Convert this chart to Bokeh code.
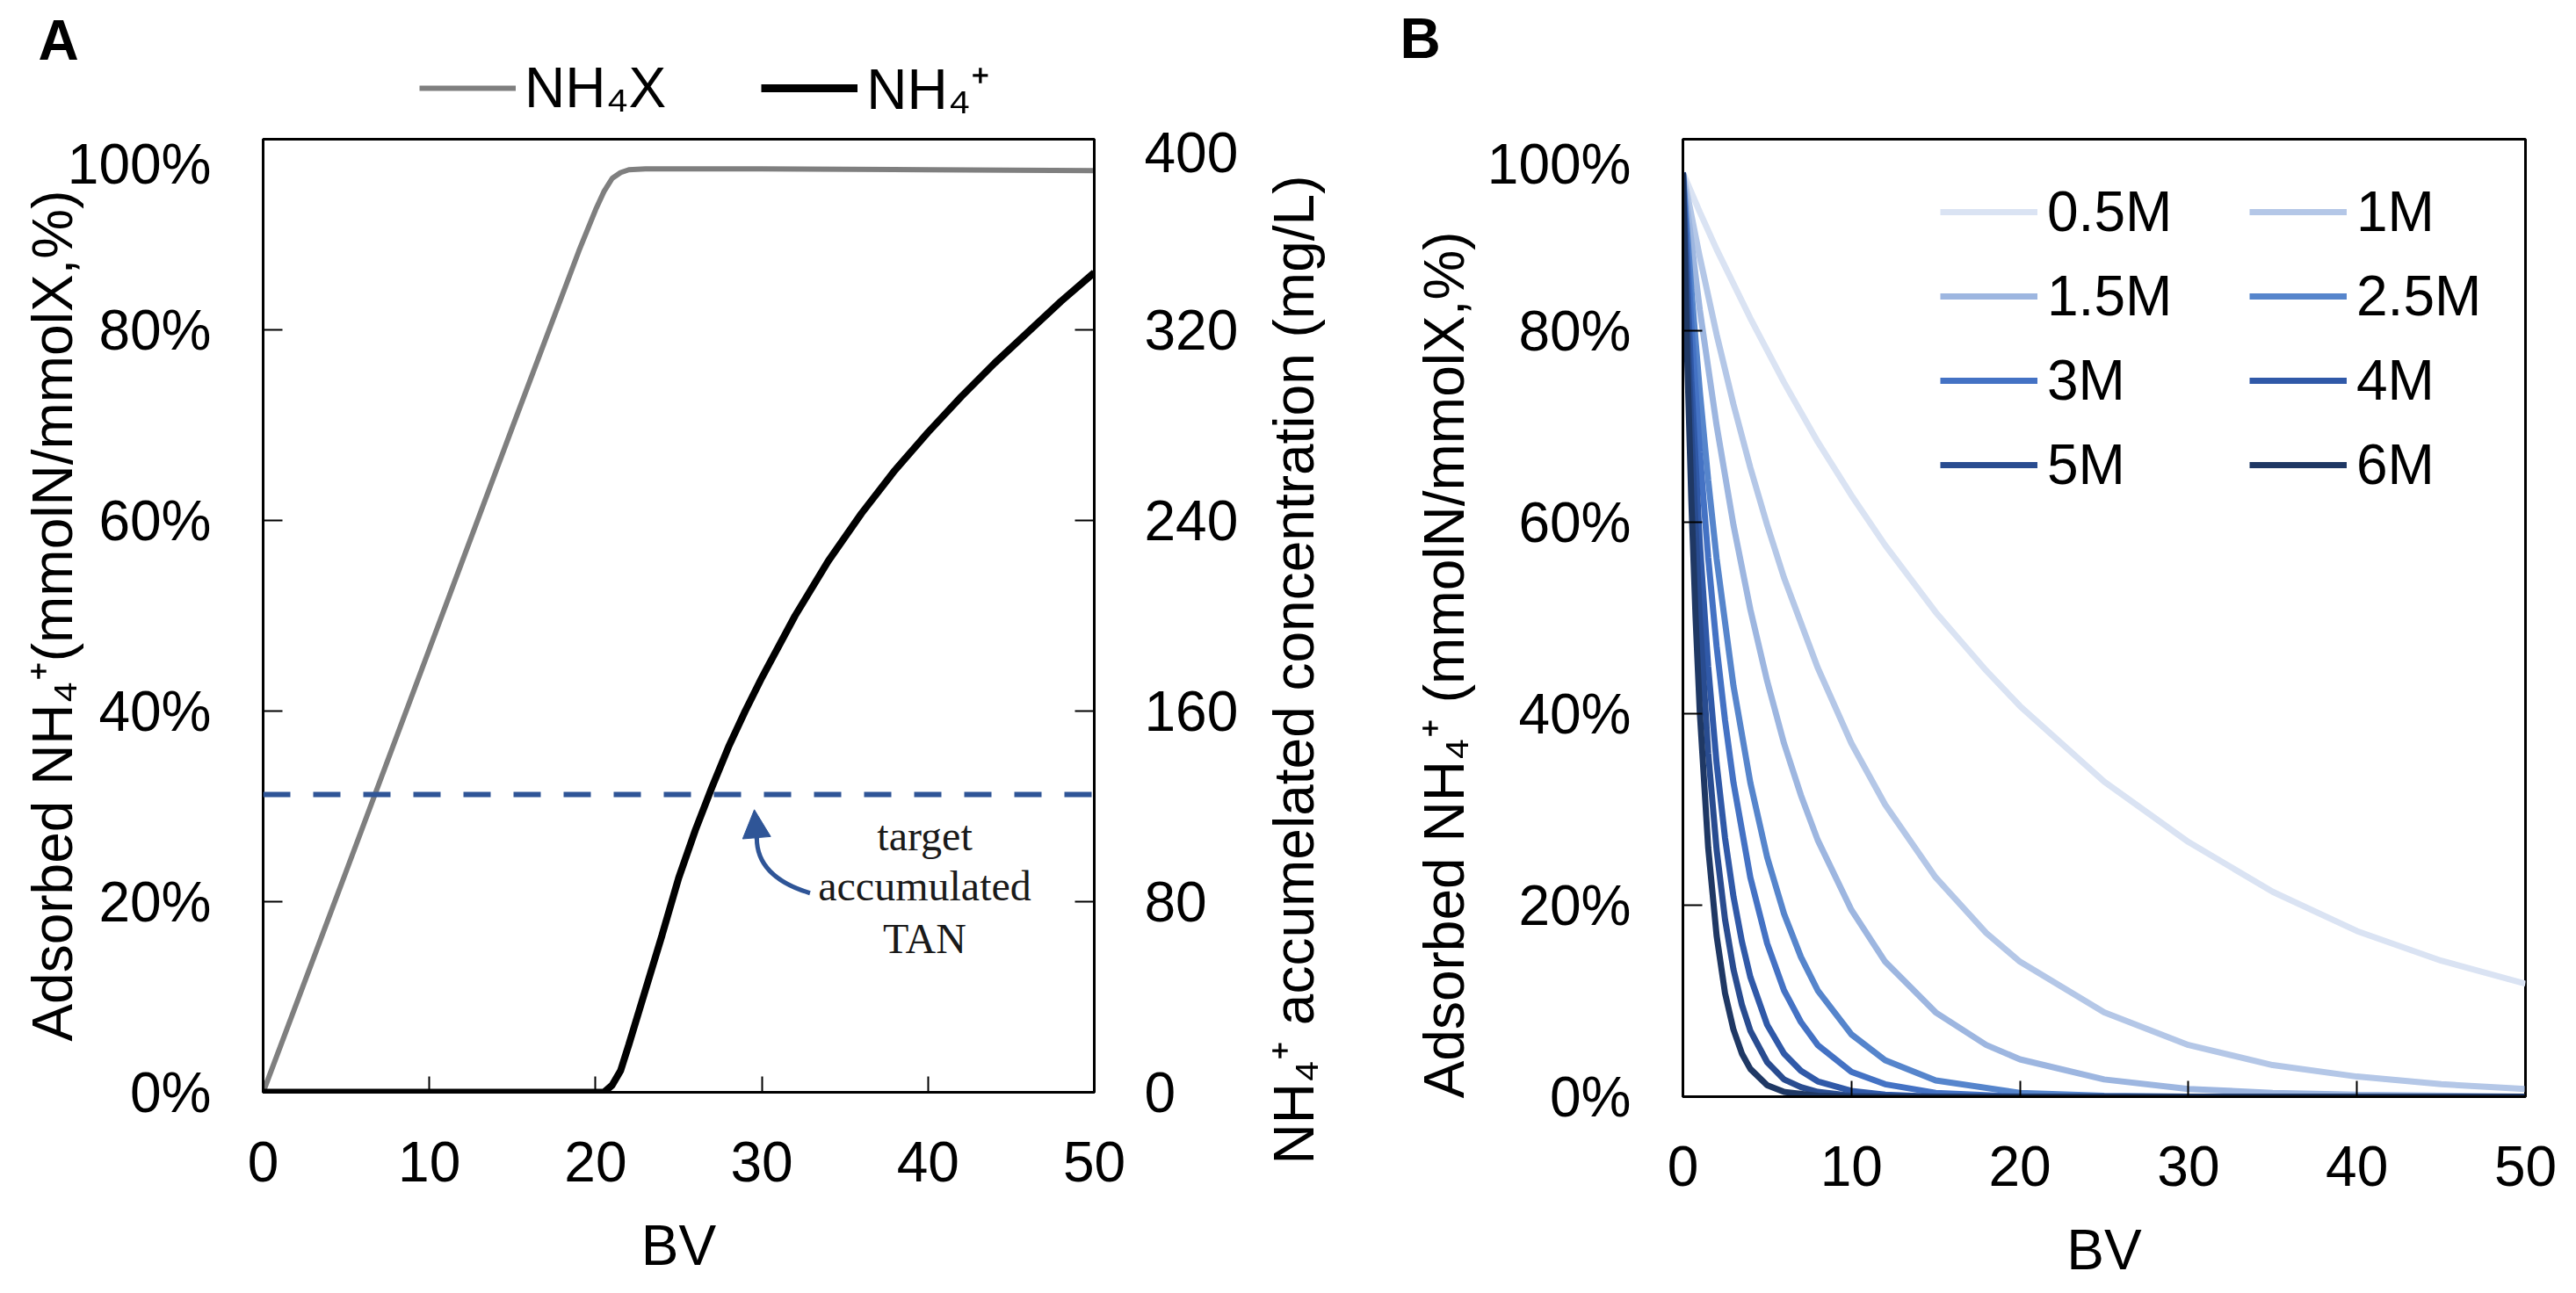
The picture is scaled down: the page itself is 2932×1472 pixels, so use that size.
import math
from bokeh.plotting import figure
from bokeh.models import (Range1d, LinearAxis, FixedTicker, PrintfTickFormatter, Legend,
                          LegendItem, Span, Label, Arrow, NormalHead)
from bokeh.layouts import row, column
from bokeh.embed import file_html
from bokeh.resources import INLINE

# ---------------- data: panel A ----------------
BV_NH4X = [0, 5, 10, 15, 19, 20, 20.5, 21, 21.5, 22, 23, 30, 40, 50]
NH4X_PCT = [0, 23.2, 46.5, 69.8, 88.3, 92.6, 94.5, 95.9, 96.5, 96.8, 96.9, 96.9, 96.8, 96.7]

BV_NH4 = [0, 20.5, 21, 21.5, 22, 23, 24, 25, 26, 27, 28, 29, 30, 32, 34, 36, 38, 40, 42, 44, 46, 48, 50]
NH4_MGL = [0, 0, 3, 9, 20, 43, 66, 90, 110, 128, 145, 160, 174, 200, 223, 243, 261, 277, 292, 306, 319, 332, 344]

TARGET_MGL = 125
A_X_TICKS = [0, 10, 20, 30, 40, 50]
A_Y_TICKS = [0, 20, 40, 60, 80, 100]
A_Y2_TICKS = [0, 80, 160, 240, 320, 400]

# ---------------- data: panel B ----------------
B_LABELS = ["0.5M", "1M", "1.5M", "2.5M", "3M", "4M", "5M", "6M"]
B_COLORS = ["#DAE3F3", "#B4C7E7", "#9DB6E0", "#5685CC", "#4472C4", "#3059A8", "#294C90", "#1F3864"]

BV_05 = [0, 1, 2, 4, 6, 8, 10, 12, 15, 18, 20, 25, 30, 35, 40, 45, 50]
Y_05 = [96.5, 92.4, 88.5, 81.3, 74.6, 68.4, 62.8, 57.6, 50.6, 44.5, 40.8, 32.9, 26.6, 21.4, 17.3, 14.2, 11.8]

BV_1 = [0, 1, 2, 3, 4, 5, 6, 8, 10, 12, 15, 18, 20, 25, 30, 35, 40, 45, 50]
Y_1 = [96.5, 87.7, 79.6, 72.3, 65.7, 59.7, 54.2, 44.8, 36.9, 30.5, 22.9, 17.1, 14.1, 8.8, 5.4, 3.3, 2.1, 1.3, 0.8]

BV_15 = [0, 1, 2, 3, 4, 5, 6, 7, 8, 10, 12, 15, 18, 20, 25, 30, 35, 40, 50]
Y_15 = [96.5, 82.2, 70.1, 59.7, 50.9, 43.4, 36.9, 31.5, 26.8, 19.5, 14.1, 8.8, 5.4, 3.9, 1.8, 0.8, 0.4, 0.2, 0]

BV_25 = [0, 0.5, 1, 1.5, 2, 3, 4, 5, 6, 7, 8, 10, 12, 15, 20, 25, 30, 50]
Y_25 = [96.5, 84.3, 73.7, 64.4, 56.2, 42.9, 32.8, 25.0, 19.1, 14.6, 11.1, 6.5, 3.8, 1.7, 0.4, 0.1, 0, 0]

BV_3 = [0, 0.5, 1, 1.5, 2, 2.5, 3, 4, 5, 6, 7, 8, 10, 12, 15, 20, 50]
Y_3 = [96.5, 80.6, 67.3, 56.3, 47.0, 39.3, 32.8, 22.9, 16.0, 11.1, 7.8, 5.4, 2.6, 1.3, 0.4, 0, 0]

BV_4 = [0, 0.5, 1, 1.5, 2, 2.5, 3, 3.5, 4, 5, 6, 7, 8, 10, 12, 15, 50]
Y_4 = [96.5, 74.8, 57.9, 44.9, 34.8, 27.0, 20.9, 16.2, 12.5, 7.5, 4.5, 2.7, 1.6, 0.6, 0.2, 0, 0]

BV_5 = [0, 0.25, 0.5, 1, 1.5, 2, 2.5, 3, 3.5, 4, 5, 6, 7, 8, 10, 12, 50]
Y_5 = [96.5, 81.8, 69.4, 49.9, 35.9, 25.8, 18.5, 13.3, 9.6, 6.9, 3.6, 1.8, 1.0, 0.5, 0.1, 0, 0]

BV_6 = [0, 0.25, 0.5, 0.75, 1, 1.5, 2, 2.5, 3, 3.5, 4, 5, 6, 8, 10, 50]
Y_6 = [96.5, 77.5, 62.3, 50.1, 40.2, 26.0, 16.8, 10.8, 7.0, 4.5, 2.9, 1.2, 0.5, 0.1, 0, 0]

B_X = [BV_05, BV_1, BV_15, BV_25, BV_3, BV_4, BV_5, BV_6]
B_Y = [Y_05, Y_1, Y_15, Y_25, Y_3, Y_4, Y_5, Y_6]

FONT = "Liberation Sans"
SERIF = "Liberation Serif"
BLUE = "#2F5597"
NB = "\u00a0"
NAN = float("nan")

MAIN_H = 1306  # height of the main-row figures


def style_axis(ax, standoff, tick_in=22):
    ax.major_tick_in = tick_in
    ax.major_tick_out = 0
    ax.minor_tick_line_color = None
    ax.major_tick_line_color = "black"
    ax.major_tick_line_width = 2
    ax.axis_line_color = "black"
    ax.axis_line_width = 3
    ax.major_label_text_font = FONT
    ax.major_label_text_font_size = "64px"
    ax.major_label_text_color = "black"
    ax.major_label_standoff = standoff
    ax.axis_label_text_font = FONT
    ax.axis_label_text_font_style = "normal"
    ax.axis_label_text_font_size = "64px"
    ax.axis_label_text_color = "black"


def base_fig(frame_w, frame_h, left, right):
    p = figure(frame_width=frame_w, frame_height=frame_h, x_range=Range1d(0, 50), y_range=Range1d(0, 100),
               output_backend="svg", toolbar_location=None, title=None,
               min_border_left=left, min_border_right=right, min_border_top=8,
               min_border_bottom=MAIN_H - 8 - frame_h)
    p.xgrid.visible = False
    p.ygrid.visible = False
    p.outline_line_color = "black"
    p.outline_line_width = 3
    p.outline_line_alpha = 1
    p.background_fill_color = "white"
    p.border_fill_color = "white"
    style_axis(p.xaxis[0], 56, 18)
    style_axis(p.yaxis[0], 59)
    p.xaxis[0].ticker = FixedTicker(ticks=A_X_TICKS)
    p.yaxis[0].ticker = FixedTicker(ticks=A_Y_TICKS)
    p.yaxis[0].formatter = PrintfTickFormatter(format="%d%%")
    p.xaxis[0].axis_label = "BV"
    p.xaxis[0].axis_label_standoff = 34
    return p


def blank_fig(w, h):
    f = figure(frame_width=w, frame_height=h, x_range=Range1d(0, w), y_range=Range1d(0, h),
               output_backend="svg", toolbar_location=None, x_axis_location=None, y_axis_location=None,
               min_border=0, title=None)
    for g in f.grid:
        g.visible = False
    f.outline_line_color = None
    f.background_fill_color = "white"
    f.border_fill_color = "white"
    return f


# ---------------- panel A ----------------
pA = base_fig(946, 1085, 299, 175)
pA.extra_y_ranges = {"conc": Range1d(0, 400)}
pA.yaxis[0].axis_label = "Adsorbed NH\u2084\u207a(mmolN/mmolX,%)"
pA.yaxis[0].axis_label_standoff = -22
ax2 = LinearAxis(y_range_name="conc", ticker=FixedTicker(ticks=A_Y2_TICKS))
style_axis(ax2, 57)
pA.add_layout(ax2, "right")

pA.add_layout(Span(location=TARGET_MGL, dimension="width", y_range_name="conc", line_color=BLUE,
                   line_width=6, line_dash="31 26"))

r_x = pA.line(BV_NH4X, NH4X_PCT, line_color="#7F7F7F", line_width=6)
r_n = pA.line(BV_NH4, NH4_MGL, y_range_name="conc", line_color="black", line_width=8)

# annotation
for txt, yy in [("target", 107.5), ("accumulated", 86.5), ("TAN", 64.5)]:
    pA.add_layout(Label(x=39.8, y=yy, y_range_name="conc", text=txt, text_align="center",
                        text_baseline="middle", text_font=SERIF, text_font_size="48px", text_color="#1a1a1a"))
pA.bezier(x0=[32.9], y0=[83.6], x1=[29.7], y1=[107.6], cx0=[30.3], cy0=[89.1], cx1=[29.65], cy1=[98.3],
          y_range_name="conc", line_color=BLUE, line_width=5)
pA.add_layout(Arrow(x_start=29.7, y_start=106.0, x_end=29.55, y_end=118.6, y_range_name="conc",
                    line_color=BLUE, line_width=5,
                    end=NormalHead(size=32, fill_color=BLUE, line_color=BLUE)))

# right-hand title strip of panel A (text reads bottom to top)
rA = blank_fig(140, MAIN_H)
rA.add_layout(Label(x=52, y=702, text="NH\u2084\u207a accumelated concentration (mg/L)", angle=math.pi / 2,
                    text_align="center", text_baseline="middle", text_font=FONT, text_font_size="64px",
                    text_color="black"))

# header A: panel letter + legend
hA = blank_fig(1560, 150)
lx = hA.line([NAN], [NAN], line_color="#7F7F7F", line_width=6)
ln = hA.line([NAN], [NAN], line_color="black", line_width=9)
legA = Legend(items=[LegendItem(label="NH\u2084X", renderers=[lx]),
                     LegendItem(label="NH\u2084\u207a", renderers=[ln])],
              orientation="horizontal", location=(477, 7), glyph_width=110, glyph_height=74,
              label_height=74, label_width=160, label_standoff=10, spacing=108, padding=0, margin=0,
              border_line_color=None, background_fill_alpha=0,
              label_text_font=FONT, label_text_font_size="64px", label_text_color="black")
hA.add_layout(legA, "center")
hA.add_layout(Label(x=66, y=105, text="A", text_align="center", text_baseline="middle",
                    text_font=FONT, text_font_size="64px", text_font_style="bold", text_color="black"))

# ---------------- panel B ----------------
pB = base_fig(959, 1090, 355, 42)
pB.yaxis[0].axis_label = "Adsorbed NH\u2084\u207a (mmolN/mmolX,%)" + NB * 6
pB.yaxis[0].axis_label_standoff = 10
renders = []
for xs, ys, c in zip(B_X, B_Y, B_COLORS):
    renders.append(pB.line(xs, ys, line_color=c, line_width=7))

col1 = [LegendItem(label=B_LABELS[i], renderers=[renders[i]]) for i in (0, 2, 4, 6)]
col2 = [LegendItem(label=B_LABELS[i], renderers=[renders[i]]) for i in (1, 3, 5, 7)]
for items, lx0 in [(col1, 293), (col2, 645)]:
    lg = Legend(items=items, orientation="vertical", location=(lx0, 682), glyph_width=111, glyph_height=74,
                label_height=74, label_standoff=11, spacing=22, padding=0, margin=0,
                border_line_color=None, background_fill_alpha=0,
                label_text_font=FONT, label_text_font_size="64px", label_text_color="black")
    pB.add_layout(lg, "center")

hB = blank_fig(1356, 150)
hB.add_layout(Label(x=56, y=107, text="B", text_align="center", text_baseline="middle",
                    text_font=FONT, text_font_size="64px", text_font_style="bold", text_color="black"))

layout = column(row(hA, hB, spacing=0), row(pA, rA, pB, spacing=0), spacing=0)
open("out.html", "w").write(file_html(layout, INLINE))
